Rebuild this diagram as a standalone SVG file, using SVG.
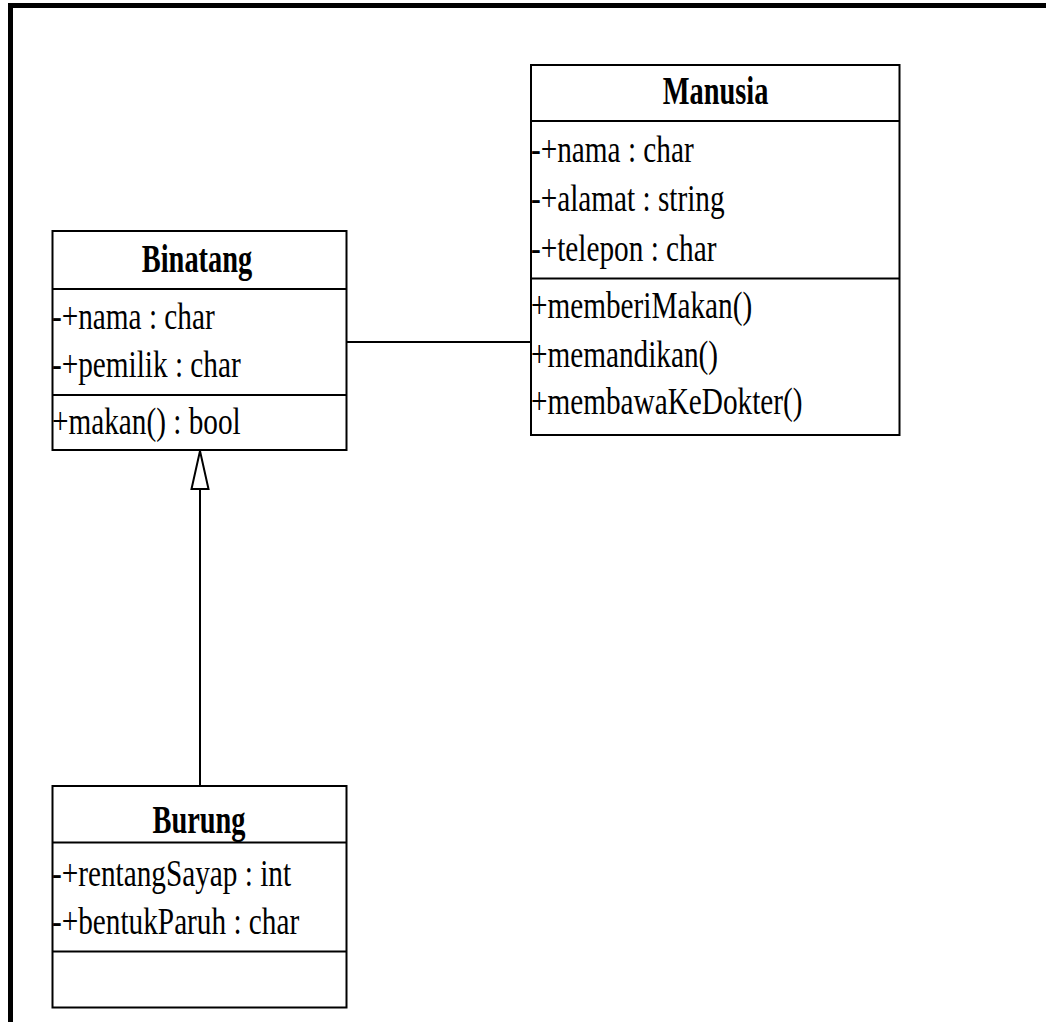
<svg xmlns="http://www.w3.org/2000/svg" width="1046" height="1022" viewBox="0 0 1046 1022">
<style>
.box{fill:#fff;stroke:#000;stroke-width:2}
.div{stroke:#000;stroke-width:2}
.t{font-family:"Liberation Serif","Times New Roman",serif;font-size:38px;fill:#000}
.b{font-family:"Liberation Serif","Times New Roman",serif;font-size:40px;font-weight:bold;fill:#000;text-anchor:middle}
.c{stroke:#000;stroke-width:2;fill:none}
</style>
<rect x="0" y="0" width="1046" height="1022" fill="#fff"/>
<g id="frame">
<rect x="8" y="3" width="1038" height="5" fill="#000"/>
<rect x="8" y="3" width="5" height="1019" fill="#000"/>
</g>
<g id="connectors">
<line class="c" x1="347" y1="342" x2="531" y2="342"/>
<line class="c" x1="200" y1="489" x2="200" y2="786"/>
<polygon points="200,451 191.5,489 208.5,489" fill="#fff" stroke="#000" stroke-width="2"/>
</g>
<g id="binatang">
<rect class="box" x="52.5" y="231" width="294" height="219"/>
<line class="div" x1="52.5" y1="289" x2="346.5" y2="289"/>
<line class="div" x1="52.5" y1="395" x2="346.5" y2="395"/>
<text class="b" transform="translate(197,271.5) scale(0.71,1)">Binatang</text>
<text class="t" transform="translate(52,328.5) scale(0.77,1)">-+nama : char</text>
<text class="t" transform="translate(52,377) scale(0.77,1)">-+pemilik : char</text>
<text class="t" transform="translate(52,433.5) scale(0.77,1)">+makan() : bool</text>
</g>
<g id="manusia">
<rect class="box" x="531" y="65" width="368.5" height="370"/>
<line class="div" x1="531" y1="121" x2="899.5" y2="121"/>
<line class="div" x1="531" y1="278.5" x2="899.5" y2="278.5"/>
<text class="b" transform="translate(715.5,103.5) scale(0.71,1)">Manusia</text>
<text class="t" transform="translate(531,161.5) scale(0.77,1)">-+nama : char</text>
<text class="t" transform="translate(531,211) scale(0.77,1)">-+alamat : string</text>
<text class="t" transform="translate(531,260.5) scale(0.77,1)">-+telepon : char</text>
<text class="t" transform="translate(531,318) scale(0.77,1)">+memberiMakan()</text>
<text class="t" transform="translate(531,366.5) scale(0.77,1)">+memandikan()</text>
<text class="t" transform="translate(531,413.5) scale(0.77,1)">+membawaKeDokter()</text>
</g>
<g id="burung">
<rect class="box" x="52.5" y="786" width="294" height="221.5"/>
<line class="div" x1="52.5" y1="842.5" x2="346.5" y2="842.5"/>
<line class="div" x1="52.5" y1="951.5" x2="346.5" y2="951.5"/>
<text class="b" transform="translate(199,833) scale(0.71,1)">Burung</text>
<text class="t" transform="translate(52,886) scale(0.77,1)">-+rentangSayap : int</text>
<text class="t" transform="translate(52,933.5) scale(0.77,1)">-+bentukParuh : char</text>
</g>
</svg>
